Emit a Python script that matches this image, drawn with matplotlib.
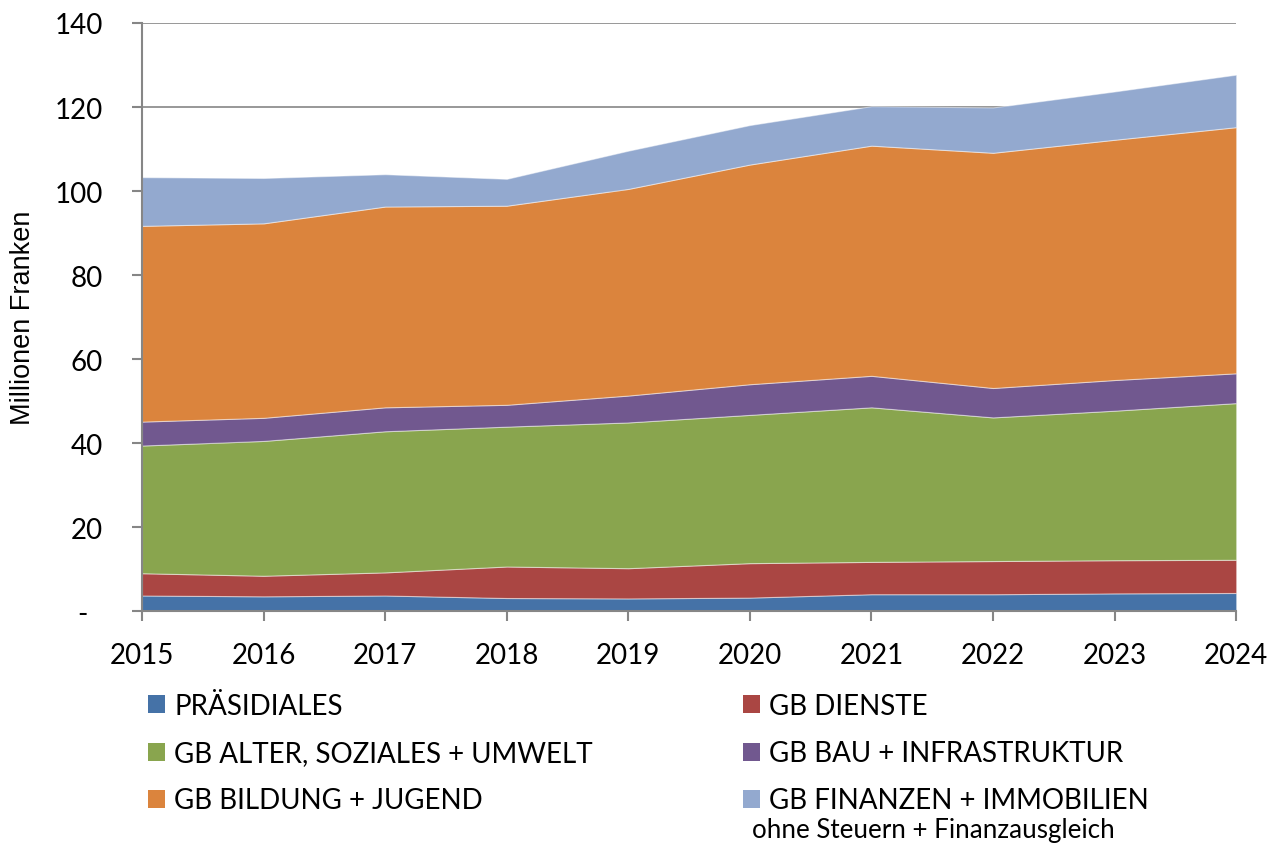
import numpy as np
import matplotlib.pyplot as plt

plt.rcParams['font.family'] = ['Lato', 'DejaVu Sans']

jahre = [2015, 2016, 2017, 2018, 2019, 2020, 2021, 2022, 2023, 2024]

# Millionen Franken je Geschaeftsbereich
praesidiales = [3.7, 3.5, 3.7, 3.1, 3.0, 3.2, 4.0, 4.0, 4.2, 4.3]
dienste = [5.3, 4.9, 5.5, 7.5, 7.2, 8.2, 7.7, 7.9, 7.9, 7.9]
alter_soziales = [30.4, 32.1, 33.6, 33.3, 34.7, 35.3, 36.8, 34.2, 35.6, 37.3]
bau_infra = [5.7, 5.5, 5.7, 5.2, 6.4, 7.3, 7.5, 7.0, 7.3, 7.1]
bildung = [46.6, 46.3, 47.8, 47.4, 49.2, 52.3, 54.8, 56.0, 57.2, 58.6]
finanzen = [11.6, 10.8, 7.7, 6.4, 9.1, 9.4, 9.4, 10.8, 11.5, 12.5]

labels = ['PRÄSIDIALES', 'GB DIENSTE', 'GB ALTER, SOZIALES + UMWELT',
          'GB BAU + INFRASTRUKTUR', 'GB BILDUNG + JUGEND',
          'GB FINANZEN + IMMOBILIEN']
colors = ['#4572A7', '#AA4643', '#89A54E', '#71588F', '#DB843D', '#93A9CF']

y_ticks = [0, 20, 40, 60, 80, 100, 120, 140]
y_ticklabels = ['-  ', '20', '40', '60', '80', '100', '120', '140']

fig = plt.figure(figsize=(12.85, 8.45), dpi=100)
ax = fig.add_axes([0.1105, 0.2757, 0.8515, 0.6959])

polys = ax.stackplot(jahre, praesidiales, dienste, alter_soziales, bau_infra,
                     bildung, finanzen, colors=colors, labels=labels,
                     edgecolor=(1, 1, 1, 0.45), linewidth=0.8, zorder=2)

ax.set_xlim(jahre[0], jahre[-1])
ax.set_ylim(0, 140)
ax.set_xticks(jahre)
ax.set_yticks(y_ticks)
ax.set_yticklabels(y_ticklabels)
ax.grid(axis='y', color='#868686', linewidth=1.2, zorder=0)
ax.set_axisbelow(True)

for side in ['top', 'right']:
    ax.spines[side].set_visible(False)
for side in ['left', 'bottom']:
    ax.spines[side].set_color('#868686')
    ax.spines[side].set_linewidth(1.5)
    ax.spines[side].set_zorder(3)

ax.tick_params(axis='both', colors='#868686', width=1.5, length=7,
               labelsize=20, labelcolor='black')
ax.tick_params(axis='x', pad=15)
ax.tick_params(axis='y', pad=21)
ax.set_ylabel('Millionen Franken', fontsize=19.5, family='Liberation Sans')
ax.yaxis.set_label_coords(-0.0965, 0.5)

# Legende: zwei Spalten, Reihenfolge spaltenweise
order = [0, 2, 4, 1, 3, 5]
leg = fig.legend([polys[i] for i in order], [labels[i] for i in order],
                 ncol=2, loc='upper left', bbox_to_anchor=(0.0957, 0.208),
                 frameon=False, fontsize=20, handlelength=0.62,
                 handleheight=0.62, handletextpad=0.32, columnspacing=5.4,
                 labelspacing=0.76)
for p in leg.get_patches():
    p.set_edgecolor('none')

fig.text(0.585, 0.008, 'ohne Steuern + Finanzausgleich', fontsize=18.7,
         va='baseline')

fig.savefig('out.png', dpi=100)
